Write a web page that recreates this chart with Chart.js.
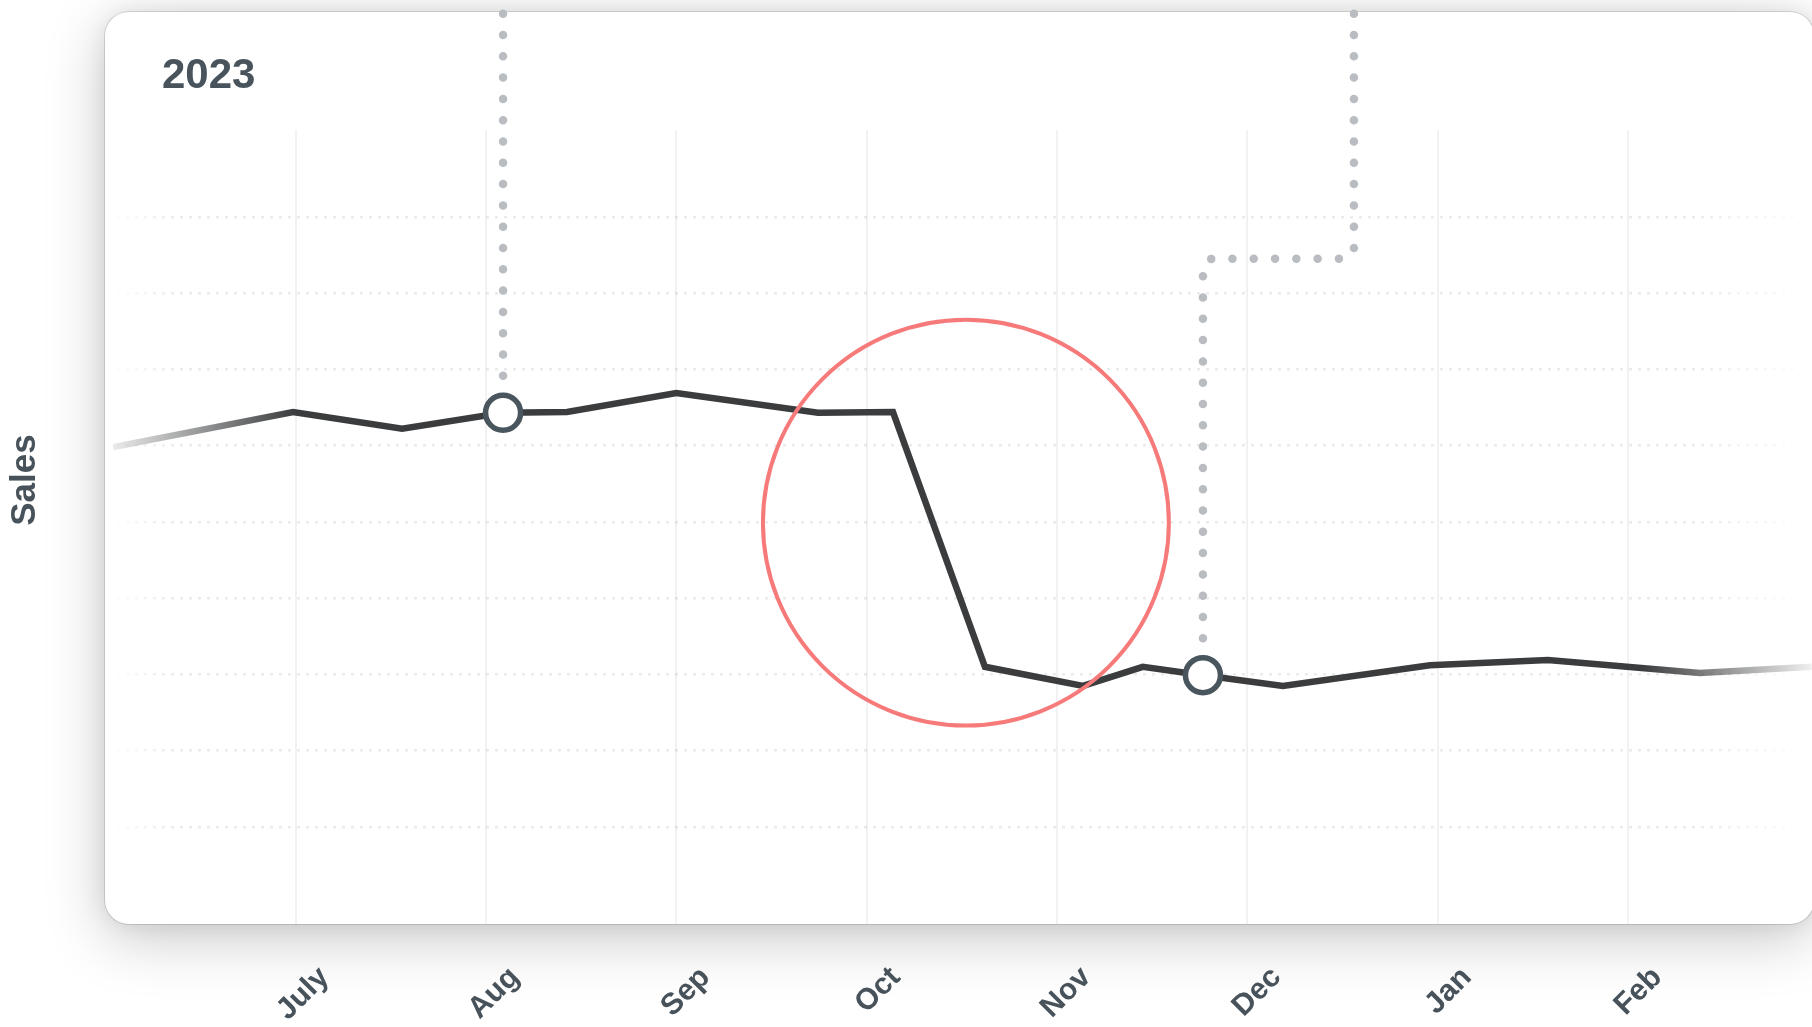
<!DOCTYPE html>
<html>
<head>
<meta charset="utf-8">
<script src="https://cdn.jsdelivr.net/npm/chart.js@4.4.0/dist/chart.umd.min.js"></script>
<style>
html,body{margin:0;padding:0;background:#fff;overflow:hidden;}
#wrap{position:relative;width:1812px;height:1027px;overflow:hidden;background:#fff;}
#card{position:absolute;left:105px;top:12px;width:1709px;height:912px;border-radius:24px;background:#fff;
  box-shadow:0 0 0 1px rgba(0,0,0,0.12), 0 14px 60px rgba(0,0,0,0.22), 0 0 22px rgba(0,0,0,0.08);}
#c{position:absolute;left:0;top:0;}
#year{position:absolute;left:162px;top:53px;font:bold 42px 'Liberation Sans',Arial,sans-serif;line-height:42px;color:#48535b;z-index:3;}
</style>
</head>
<body>
<div id="wrap">
  <div id="card"></div>
  <canvas id="c" width="1812" height="1027"></canvas>
  <div id="year">2023</div>
</div>
<script>
// ---- data ----
const months = ['July', 'Aug', 'Sep', 'Oct', 'Nov', 'Dec', 'Jan', 'Feb'];
// x position in months (0 = July)
const salesX = [-0.958, -0.013, 0.560, 1.090, 1.426, 2.000, 2.744, 3.138, 3.621, 4.136, 4.450, 4.766, 5.186, 5.958, 6.578, 7.376, 7.964];
const salesY = [59.8, 64.4, 62.2, 64.3, 64.4, 66.9, 64.3, 64.4, 31.0, 28.5, 31.0, 29.9, 28.5, 31.2, 31.9, 30.2, 31.0];
const markerIndices = [3, 11];
const focusCircle = { x: 3.521, y: 49.9, r: 1.066 };
const connector1 = [{ x: 1.090, y: 125 }, { x: 1.090, y: 64.3 }];
const connector2 = [{ x: 5.559, y: 125 }, { x: 5.559, y: 84.5 }, { x: 4.766, y: 84.5 }, { x: 4.766, y: 29.9 }];
const xMin = -0.985, xMax = 7.965;
const yMin = -2.72, yMax = 113.7;
const yGridFrom = 10, yGridTo = 90;

const FONT = "'Liberation Sans', Arial, sans-serif";
const TEXT = '#47525a';

function fadeGradient(chart, rgb, a0, a1, stops) {
  const ca = chart.chartArea;
  const g = chart.ctx.createLinearGradient(ca.left, 0, ca.right, 0);
  g.addColorStop(0, `rgba(${rgb},${a0})`);
  g.addColorStop(stops[0], `rgba(${rgb},${a1})`);
  g.addColorStop(stops[1], `rgba(${rgb},${a1})`);
  g.addColorStop(1, `rgba(${rgb},${a0})`);
  return g;
}

const decor = {
  id: 'decor',
  beforeDatasetsDraw(chart) {
    const { ctx, scales: { x, y } } = chart;
    ctx.save();
    // card header area (hides grid above plot)
    ctx.fillStyle = '#fff';
    ctx.fillRect(130, 13, chart.width - 155, 117);
    // dotted connectors
    ctx.strokeStyle = '#b9bdc1';
    ctx.lineWidth = 8.5;
    ctx.lineCap = 'round';
    ctx.lineJoin = 'round';
    ctx.setLineDash([0, 21.3]);
    [connector1, connector2].forEach(path => {
      const pts = path.map(p => [x.getPixelForValue(p.x), y.getPixelForValue(p.y)]);
      ctx.beginPath();
      ctx.moveTo(pts[0][0], pts[0][1]);
      for (let i = 1; i < pts.length - 1; i++) {
        ctx.arcTo(pts[i][0], pts[i][1], pts[i + 1][0], pts[i + 1][1], 10);
      }
      ctx.lineTo(pts[pts.length - 1][0], pts[pts.length - 1][1]);
      ctx.stroke();
    });
    ctx.restore();
  },
  afterDatasetsDraw(chart) {
    const { ctx, scales: { x, y } } = chart;
    const cx = x.getPixelForValue(focusCircle.x);
    const cy = y.getPixelForValue(focusCircle.y);
    const r = x.getPixelForValue(focusCircle.x + focusCircle.r) - cx;
    ctx.save();
    ctx.strokeStyle = '#f77a7a';
    ctx.lineWidth = 4;
    ctx.beginPath();
    ctx.arc(cx, cy, r, 0, Math.PI * 2);
    ctx.stroke();
    ctx.restore();
  }
};

new Chart(document.getElementById('c'), {
  type: 'line',
  data: {
    datasets: [{
      label: 'Sales',
      data: salesX.map((v, i) => ({ x: v, y: salesY[i] })),
      borderColor: (c) => c.chart.chartArea ? fadeGradient(c.chart, '58,60,62', 0.08, 1, [0.11, 0.9]) : '#3a3c3e',
      borderWidth: 6.5,
      tension: 0,
      borderJoinStyle: 'miter',
      pointRadius: (c) => markerIndices.includes(c.dataIndex) ? 17.5 : 0,
      pointHoverRadius: (c) => markerIndices.includes(c.dataIndex) ? 17.5 : 0,
      pointBackgroundColor: '#ffffff',
      pointBorderColor: '#4a565e',
      pointBorderWidth: 5.5,
      clip: false
    }]
  },
  options: {
    responsive: false,
    animation: false,
    devicePixelRatio: 1,
    layout: { padding: { top: 36, left: 0, right: 0, bottom: 0 } },
    plugins: { legend: { display: false }, tooltip: { enabled: false } },
    scales: {
      x: {
        type: 'linear',
        min: xMin,
        max: xMax,
        afterFit(s) { s.height = 103; s.paddingLeft = 0; s.paddingRight = 0; },
        ticks: {
          stepSize: 1,
          includeBounds: false,
          autoSkip: false,
          minRotation: 45,
          maxRotation: 45,
          padding: 36,
          labelOffset: 29,
          color: TEXT,
          font: { family: FONT, size: 30, weight: 'bold' },
          callback: (v) => {
            const k = Math.round(v);
            return Math.abs(v - k) < 1e-6 && months[k] !== undefined ? months[k] : '';
          }
        },
        grid: { color: 'rgba(0,0,0,0.05)', lineWidth: 2, drawTicks: false },
        border: { display: false }
      },
      y: {
        min: yMin,
        max: yMax,
        afterFit(s) { s.width = 108; s.paddingTop = 0; s.paddingBottom = 0; },
        ticks: { display: false, stepSize: 10, includeBounds: false },
        grid: {
          color: (c) => {
            const v = c.tick ? c.tick.value : 0;
            if (v < yGridFrom - 1e-6 || v > yGridTo + 1e-6 || !c.chart.chartArea) return 'rgba(0,0,0,0)';
            return fadeGradient(c.chart, '0,0,0', 0, 0.08, [0.04, 0.93]);
          },
          lineWidth: 2.5,
          drawTicks: false,
          borderDash: [3, 6]
        },
        border: { display: false, dash: [3, 6] },
        title: {
          display: true,
          text: 'Sales',
          color: TEXT,
          font: { family: FONT, size: 35, weight: 'bold' },
          padding: { top: 4, bottom: 0 }
        }
      }
    }
  },
  plugins: [decor]
});
</script>
</body>
</html>
